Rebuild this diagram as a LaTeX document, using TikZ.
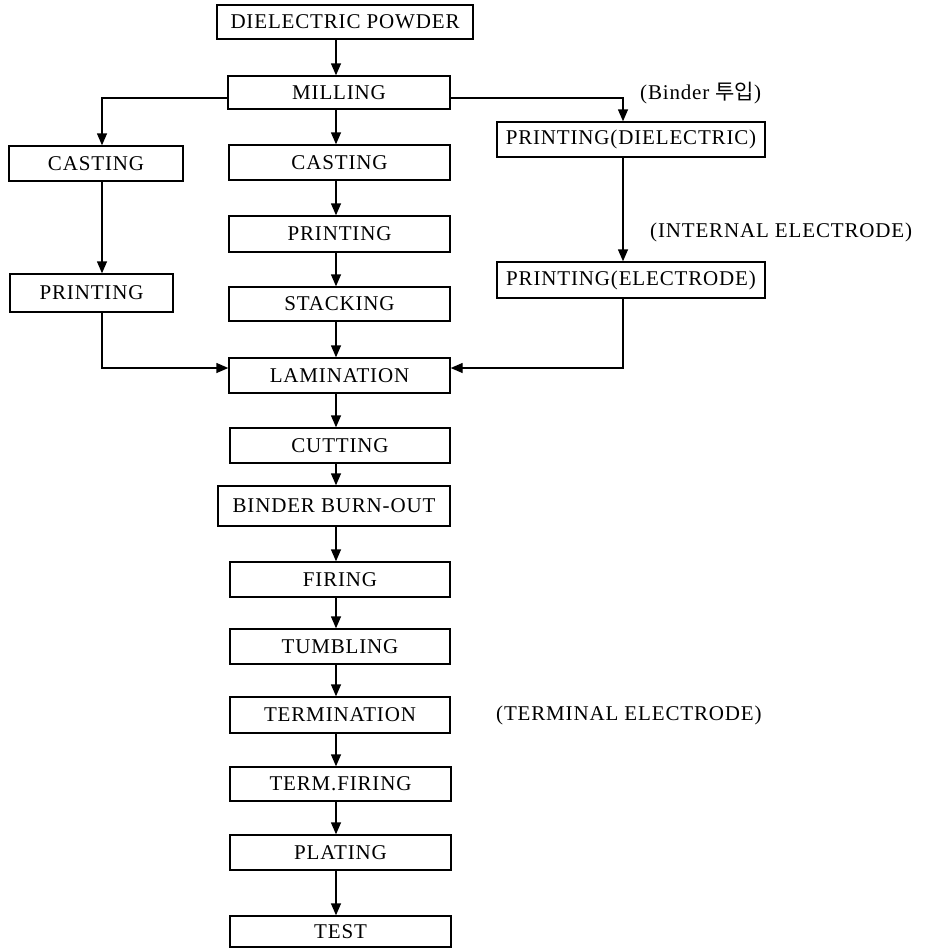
\documentclass[tikz,border=0pt]{standalone}
\usepackage{fontspec}
\setmainfont{Liberation Serif}[LetterSpace=4.0]
\newfontfamily\krfont{Noto Sans CJK KR}[Scale=1.0]
\usetikzlibrary{arrows.meta,calc}
\begin{document}
\begin{tikzpicture}[x=1pt,y=-1pt,
  box/.style={draw, line width=1.4pt, inner sep=0pt, font=\fontsize{21}{25}\selectfont},
  lbl/.style={inner sep=0pt, font=\fontsize{21}{25}\selectfont},
  arr/.style={line width=1.4pt, -{Triangle[length=12pt,width=10pt]}}]
\useasboundingbox (0,0) rectangle (928,948);
% boxes
\node[box, minimum width=256, minimum height=34] (dp) at (345,22) {DIELECTRIC POWDER};
\node[box, minimum width=222, minimum height=33] (mill) at (339,92.5) {MILLING};
\node[box, minimum width=174, minimum height=35] (castL) at (96,163.5) {CASTING};
\node[box, minimum width=221, minimum height=35] (castC) at (339.5,162.5) {CASTING};
\node[box, minimum width=268, minimum height=35] (pd) at (631,139.5) {PRINTING(DIELECTRIC)};
\node[box, minimum width=221, minimum height=36] (printC) at (339.5,234) {PRINTING};
\node[box, minimum width=163, minimum height=38] (printL) at (91.5,293) {PRINTING};
\node[box, minimum width=221, minimum height=34] (stack) at (339.5,304) {STACKING};
\node[box, minimum width=268, minimum height=36] (pe) at (631,280) {PRINTING(ELECTRODE)};
\node[box, minimum width=221, minimum height=35] (lam) at (339.5,375.5) {LAMINATION};
\node[box, minimum width=220, minimum height=35] (cut) at (340,445.5) {CUTTING};
\node[box, minimum width=232, minimum height=40] (bbo) at (334,506) {BINDER BURN-OUT};
\node[box, minimum width=220, minimum height=35] (fir) at (340,579.5) {FIRING};
\node[box, minimum width=220, minimum height=35] (tum) at (340,646.5) {TUMBLING};
\node[box, minimum width=220, minimum height=36] (term) at (340,715) {TERMINATION};
\node[box, minimum width=221, minimum height=34] (tf) at (340.5,784) {TERM.FIRING};
\node[box, minimum width=221, minimum height=35] (plat) at (340.5,852.5) {PLATING};
\node[box, minimum width=221, minimum height=31] (test) at (340.5,931.5) {TEST};
% labels
\node[lbl, anchor=west] (binder) at (640,93) {(Binder {\krfont 투입})};
\node[lbl, anchor=west] (internal) at (650,232) {(INTERNAL ELECTRODE)};
\node[lbl, anchor=west] (terminal) at (496,715) {(TERMINAL ELECTRODE)};
% column coordinates
\coordinate (cx) at (336,0);
\coordinate (lx) at (102,0);
\coordinate (rx) at (623,0);
\coordinate (jy) at (0,368);
% main column
\draw[arr] (cx |- dp.south) -- (cx |- mill.north);
\draw[arr] (cx |- mill.south) -- (cx |- castC.north);
\draw[arr] (cx |- castC.south) -- (cx |- printC.north);
\draw[arr] (cx |- printC.south) -- (cx |- stack.north);
\draw[arr] (cx |- stack.south) -- (cx |- lam.north);
\draw[arr] (cx |- lam.south) -- (cx |- cut.north);
\draw[arr] (cx |- cut.south) -- (cx |- bbo.north);
\draw[arr] (cx |- bbo.south) -- (cx |- fir.north);
\draw[arr] (cx |- fir.south) -- (cx |- tum.north);
\draw[arr] (cx |- tum.south) -- (cx |- term.north);
\draw[arr] (cx |- term.south) -- (cx |- tf.north);
\draw[arr] (cx |- tf.south) -- (cx |- plat.north);
\draw[arr] (cx |- plat.south) -- (cx |- test.north);
% left branch
\draw[arr] ($(mill.west)+(0,5.5)$) -| (lx |- castL.north);
\draw[arr] (lx |- castL.south) -- (lx |- printL.north);
\draw[arr] (lx |- printL.south) |- (jy -| lam.west);
% right branch
\draw[arr] ($(mill.east)+(0,5.5)$) -| (rx |- pd.north);
\draw[arr] (rx |- pd.south) -- (rx |- pe.north);
\draw[arr] (rx |- pe.south) |- (jy -| lam.east);
\end{tikzpicture}
\end{document}
